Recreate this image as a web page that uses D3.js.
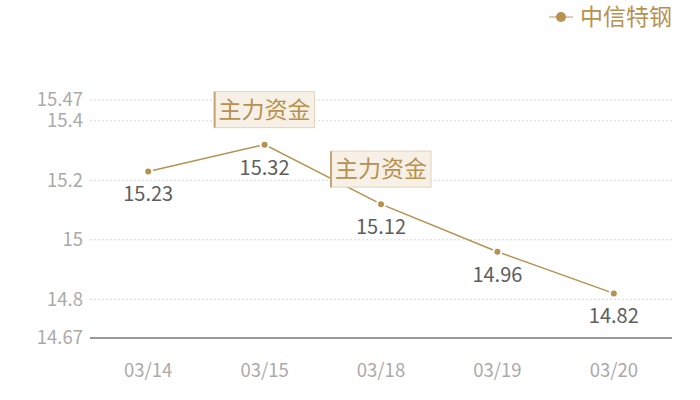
<!DOCTYPE html>
<html>
<head>
  <meta charset="utf-8">
  <style>
    body { margin: 0; background: #fff; }
    text { font-family: "Noto Sans CJK SC", "Noto Sans", sans-serif; }
    .grid line { stroke: #d6d6d6; stroke-dasharray: 2,2; }
    .tick-label { fill: #aaaaaa; font-size: 18.5px; }
    .val-label { fill: #5e5e5e; font-size: 20px; }
  </style>
  <script src="https://d3js.org/d3.v7.min.js"></script>
</head>
<body>
  <div id="chartContainer"></div>
  <script>
    var dates = ["03/14", "03/15", "03/18", "03/19", "03/20"];
    var prices = [15.23, 15.32, 15.12, 14.96, 14.82];
    var yTicks = [14.67, 14.8, 15, 15.2, 15.4, 15.47];
    var seriesName = "中信特钢";
    var markIdx = [1, 2]; // points with 主力资金 tag
    var markText = "主力资金";

    var gold = "#b8914f";
    var svg = d3.select("#chartContainer").append("svg")
      .attr("width", 700).attr("height", 400);

    var x = d3.scaleBand().domain(dates).range([90, 672]);
    var y = d3.scaleLinear().domain([14.67, 15.47]).range([338, 100]);
    function cx(d) { return x(d) + x.bandwidth() / 2; }

    // grid
    var grid = svg.append("g").attr("class", "grid");
    grid.selectAll("line")
      .data(yTicks.filter(function (t) { return t !== 14.67; }))
      .enter().append("line")
      .attr("x1", 90).attr("x2", 672)
      .attr("y1", function (d) { return y(d); })
      .attr("y2", function (d) { return y(d); });

    svg.append("line")
      .attr("x1", 90).attr("x2", 672)
      .attr("y1", y(14.67)).attr("y2", y(14.67))
      .attr("stroke", "#333").attr("stroke-width", 1);

    svg.selectAll(".ylab").data(yTicks).enter().append("text")
      .attr("class", "tick-label")
      .attr("x", 83)
      .attr("y", function (d) { return y(d); })
      .attr("dy", "0.35em")
      .attr("text-anchor", "end")
      .text(function (d) { return d; });

    svg.selectAll(".xlab").data(dates).enter().append("text")
      .attr("class", "tick-label")
      .attr("x", cx)
      .attr("y", 371)
      .attr("dy", "0.35em")
      .attr("text-anchor", "middle")
      .text(function (d) { return d; });

    var line = d3.line()
      .x(function (d, i) { return cx(dates[i]); })
      .y(function (d) { return y(d); });

    svg.append("path").datum(prices)
      .attr("d", line)
      .attr("fill", "none")
      .attr("stroke", gold)
      .attr("stroke-width", 1.5);

    svg.selectAll(".pt").data(prices).enter().append("circle")
      .attr("cx", function (d, i) { return cx(dates[i]); })
      .attr("cy", function (d) { return y(d); })
      .attr("r", 4)
      .attr("fill", gold)
      .attr("stroke", "#fff")
      .attr("stroke-width", 2);

    svg.selectAll(".vl").data(prices).enter().append("text")
      .attr("class", "val-label")
      .attr("x", function (d, i) { return cx(dates[i]); })
      .attr("y", function (d) { return y(d) + 23; })
      .attr("dy", "0.35em")
      .attr("text-anchor", "middle")
      .text(function (d) { return d.toFixed(2); });

    // 主力资金 tags
    var tags = svg.selectAll(".tag").data(markIdx).enter().append("g")
      .attr("transform", function (i) {
        return "translate(" + cx(dates[i]) + "," + (y(prices[i]) - 17) + ")";
      });
    tags.append("rect")
      .attr("x", -50).attr("y", -36).attr("width", 100).attr("height", 36)
      .attr("fill", "#f6f0e7").attr("stroke", "#e2d3bb").attr("stroke-width", 1);
    tags.append("line")
      .attr("x1", -50).attr("x2", -50).attr("y1", -36).attr("y2", 0)
      .attr("stroke", "#c4a470").attr("stroke-width", 2);
    tags.append("text")
      .attr("x", 0).attr("y", -18).attr("dy", "0.35em")
      .attr("text-anchor", "middle")
      .attr("fill", gold)
      .style("font-size", "23px")
      .text(markText);

    // legend
    var lg = svg.append("g").attr("transform", "translate(561,17)");
    lg.append("line").attr("x1", -12).attr("x2", 12)
      .attr("stroke", gold).attr("stroke-width", 1.5).attr("opacity", 0.6);
    lg.append("circle").attr("r", 5).attr("fill", gold);
    lg.append("text").attr("x", 19).attr("dy", "0.35em")
      .attr("fill", gold).style("font-size", "23px")
      .text(seriesName);
  </script>
</body>
</html>
